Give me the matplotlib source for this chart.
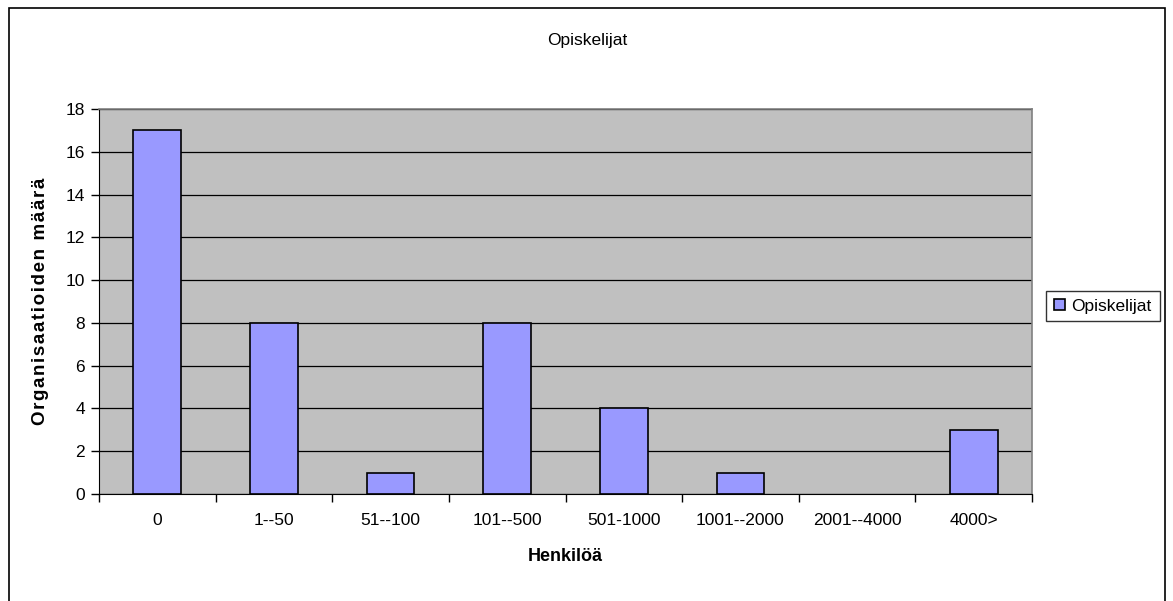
import matplotlib.pyplot as plt
from matplotlib.patches import Rectangle

categories = ['0', '1--50', '51--100', '101--500', '501-1000',
              '1001--2000', '2001--4000', '4000>']
counts = [17, 8, 1, 8, 4, 1, 0, 3]
series_name = 'Opiskelijat'
x_title = 'Henkilöä'
y_title = 'Organisaatioiden määrä'

plt.rcParams['font.family'] = ['Liberation Sans', 'DejaVu Sans']

W, H = 1173, 601
fig = plt.figure(figsize=(W / 100, H / 100), dpi=100)
ax = fig.add_axes([99 / W, 1 - 494 / H, (1032 - 99) / W, (494 - 109) / H])

# outer chart frame (bottom edge lies below the image)
fig.patches.append(Rectangle((8.5 / W, -0.05), (1165 - 8.5) / W, 1.05 - 8.5 / H,
                             transform=fig.transFigure, fill=False,
                             edgecolor='black', linewidth=1.2))

x = list(range(len(categories)))
bars = ax.bar(x, counts, width=0.41, color='#9999ff', edgecolor='black',
              linewidth=1.2, label=series_name, zorder=3)
for bar, value in zip(bars, counts):
    if value == 0:
        bar.set_linewidth(0)

ax.set_facecolor('#c0c0c0')
ax.set_xlim(-0.5, len(categories) - 0.5)
ax.set_ylim(0, 18)
ax.set_yticks(range(0, 19, 2))
ax.yaxis.grid(True, color='black', linewidth=0.9, zorder=1)
ax.set_axisbelow(True)

ax.set_xticks(x)
ax.set_xticklabels(categories, fontsize=12.5)
ax.set_xticks([i - 0.5 for i in range(len(categories) + 1)], minor=True)
ax.tick_params(axis='x', which='major', length=0, pad=14)
ax.tick_params(axis='x', which='minor', length=6, width=1, color='black')
ax.tick_params(axis='y', length=6, width=1, labelsize=12.5, pad=4)

for side in ['top', 'right']:
    ax.spines[side].set_color('#808080')
    ax.spines[side].set_linewidth(1.2)
ax.spines['left'].set_color('black')
ax.spines['bottom'].set_color('black')

ax.set_xlabel(x_title, fontsize=13, fontweight='bold', labelpad=14)
# the original y title has slightly widened letter spacing
ax.set_ylabel('\u200a'.join(y_title), fontsize=13.5, fontweight='bold',
              labelpad=12)
fig.text(587 / W, 1 - 40 / H, series_name, ha='center', va='center',
         fontsize=12.5)

leg = fig.legend(handles=[bars], labels=[series_name], loc='center',
                 bbox_to_anchor=(1103 / W, 1 - 306 / H), fontsize=12.5,
                 frameon=True, fancybox=False, edgecolor='black',
                 handlelength=0.6, handleheight=0.6, handletextpad=0.4,
                 borderpad=0.45, borderaxespad=0)
leg.get_frame().set_linewidth(1.0)

fig.savefig('out.png', dpi=100)
